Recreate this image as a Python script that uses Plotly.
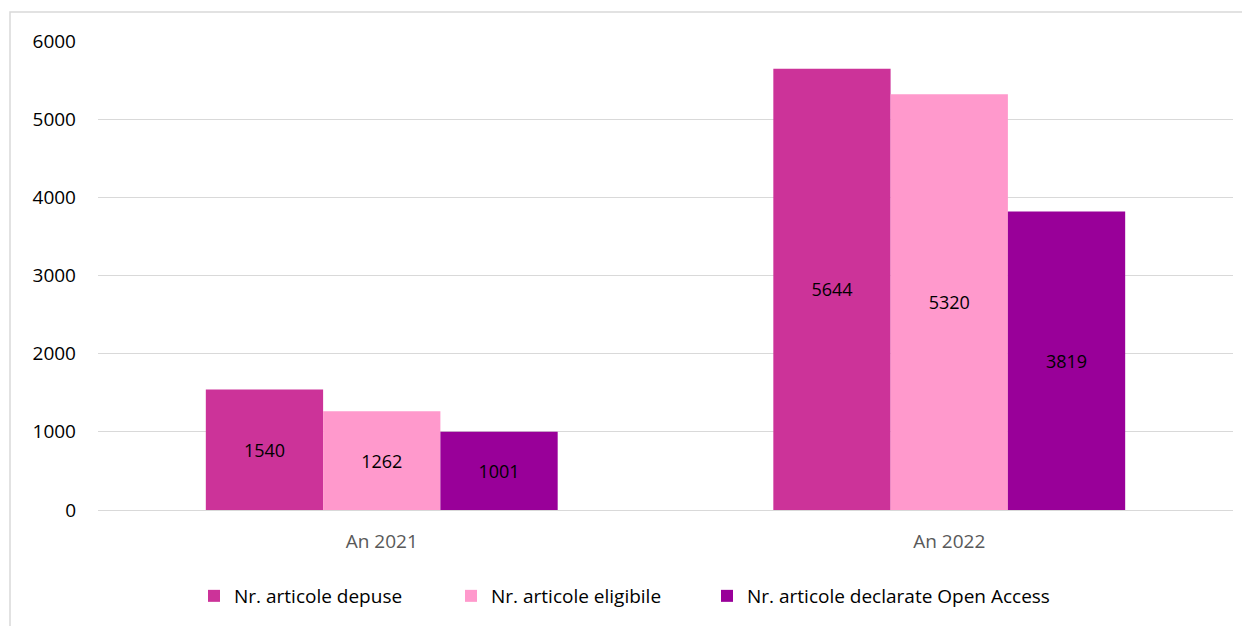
import plotly.graph_objects as go

categories = ["An 2021", "An 2022"]
depuse = [1540, 5644]
eligibile = [1262, 5320]
open_access = [1001, 3819]
series_names = ["Nr. articole depuse", "Nr. articole eligibile", "Nr. articole declarate Open Access"]
colors = ["#CC3399", "#FF99CC", "#990099"]

font_family = "Open Sans, sans-serif"

# page is rendered with 8px body margin; compensate
OFF = 8
PL, PR, PT, PB = 98, 1233, 41, 511  # plot area in page px
W, H = 1250 - OFF, 626 - OFF


def px_to_paper_x(px):
    return (px - PL) / (PR - PL)


def py_to_paper_y(py):
    return (PB - py) / (PB - PT)


legend_names = ["legend", "legend2", "legend3"]
legend_marker_px = [216, 473, 729]

fig = go.Figure()
for name, vals, col, lg in zip(series_names, [depuse, eligibile, open_access], colors, legend_names):
    fig.add_trace(go.Bar(
        x=categories, y=vals, name=name,
        marker=dict(color=col, line=dict(width=0)),
        text=[str(v) for v in vals],
        textposition="inside", insidetextanchor="middle",
        textfont=dict(color="#000000", size=18, family=font_family),
        textangle=0, legend=lg,
    ))

layout_legends = {}
for lg, mx in zip(legend_names, legend_marker_px):
    layout_legends[lg] = dict(
        orientation="h", x=px_to_paper_x(mx - 22), xanchor="left",
        y=py_to_paper_y(596), yanchor="middle",
        font=dict(size=19, color="#000000", family=font_family),
        itemwidth=30, bgcolor="rgba(0,0,0,0)",
    )

fig.update_layout(
    width=W, height=H,
    margin=dict(l=PL - OFF, r=W - (PR - OFF), t=PT - OFF, b=H - (PB - OFF)),
    paper_bgcolor="white", plot_bgcolor="white",
    barmode="group", bargap=0.38, bargroupgap=0,
    font=dict(family=font_family, size=19, color="#000000"),
    showlegend=True,
    **layout_legends,
)
fig.update_yaxes(range=[0, 6000], tickvals=[0, 1000, 2000, 3000, 4000, 5000, 6000],
                 showgrid=True, gridcolor="#D9D9D9", gridwidth=1.3,
                 zeroline=True, zerolinecolor="#D9D9D9", zerolinewidth=1.3,
                 showline=False, ticks="", ticklabelstandoff=21,
                 tickfont=dict(size=19, color="#000000"))
fig.update_xaxes(showline=False, ticks="", tickfont=dict(size=19, color="#595959"),
                 ticklabelstandoff=18)

fig.add_shape(type="rect", xref="paper", yref="paper",
              x0=px_to_paper_x(10), x1=1.05, y0=-0.4, y1=py_to_paper_y(12),
              line=dict(color="#D9D9D9", width=1.5), fillcolor="rgba(0,0,0,0)", layer="below")

fig.write_html("out.html")
